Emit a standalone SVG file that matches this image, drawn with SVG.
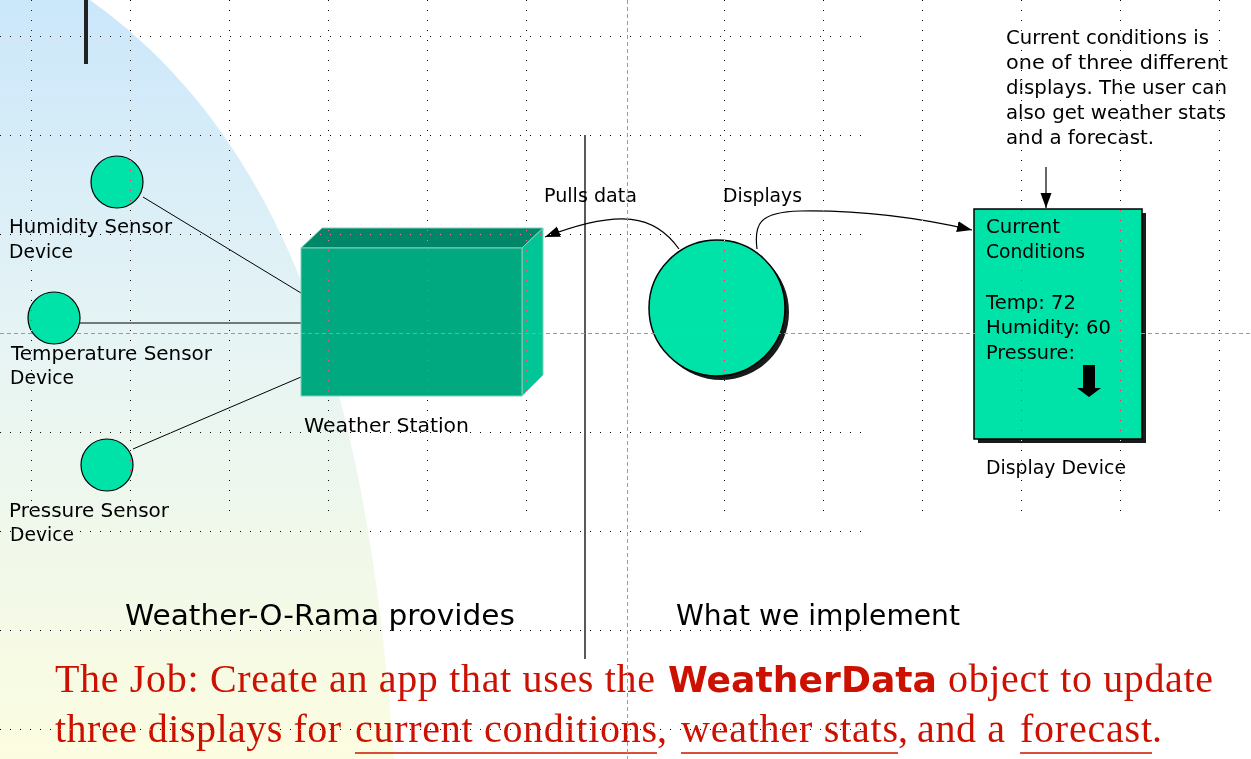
<svg xmlns="http://www.w3.org/2000/svg" width="1251" height="759" viewBox="0 0 1251 759">
<defs>
  <linearGradient id="bg" x1="0" y1="0" x2="0" y2="1">
    <stop offset="0" stop-color="#cbe7fb"/>
    <stop offset="0.45" stop-color="#e6f4f4"/>
    <stop offset="1" stop-color="#fcfde0"/>
  </linearGradient>
  <marker id="ah" markerUnits="userSpaceOnUse" markerWidth="16" markerHeight="12" refX="15" refY="5.5" orient="auto">
    <path d="M0,0 L15,5.5 L0,11 Z" fill="#000"/>
  </marker>
</defs>
<style>
  .lbl { font-family: "DejaVu Sans", "Open Sans", sans-serif; font-size: 19px; fill: #000; }
  .big { font-family: "DejaVu Sans", "Open Sans", sans-serif; font-size: 28px; fill: #000; }
  .red { font-family: "Liberation Serif", "Times New Roman", serif; font-size: 40px; fill: #cc1100; }
  .redc { font-family: "DejaVu Sans", "Open Sans", sans-serif; font-size: 36px; font-weight: bold; fill: #cc1100; }
  .sensor { fill: #00e3a8; stroke: #000; stroke-width: 1.2; }
  .wire { stroke: #000; stroke-width: 1; fill: none; }
  .conn { stroke: #000; stroke-width: 1.2; fill: none; }
  .dotg { stroke: #fff; stroke-width: 1; stroke-dasharray: 1 9; }
  .dash { stroke: #9a9a9a; stroke-width: 1; stroke-dasharray: 4 3; }
  .ul { stroke: #cc1100; stroke-width: 1.6; }
</style>

<rect x="0" y="0" width="1251" height="759" fill="#fff"/>
<path d="M0,0 L90,0 C300,150 370,420 394,759 L0,759 Z" fill="url(#bg)"/>
<rect x="84" y="0" width="4" height="64" fill="#222"/>

<!-- separator line -->
<line x1="585" y1="135" x2="585" y2="659" stroke="#000" stroke-width="1.3"/>

<g id="connectors">
  <line class="wire" x1="143" y1="197" x2="301" y2="293"/>
  <line class="wire" x1="80" y1="323" x2="301" y2="323"/>
  <line class="wire" x1="133" y1="449" x2="301" y2="377"/>
  <path class="conn" d="M679,249 C655,215 620,208 545,237" marker-end="url(#ah)"/>
  <path class="conn" d="M757,249 C754,225 758,212 800,211 C860,210 920,218 972,230" marker-end="url(#ah)"/>
  <line class="conn" x1="1046" y1="167" x2="1046" y2="208" marker-end="url(#ah)"/>
</g>

<g id="humidity-sensor">
  <circle class="sensor" cx="117" cy="182" r="26"/>
  <text class="lbl" x="9" y="233" textLength="163" lengthAdjust="spacingAndGlyphs">Humidity Sensor</text>
  <text class="lbl" x="9" y="258" textLength="64" lengthAdjust="spacingAndGlyphs">Device</text>
</g>
<g id="temperature-sensor">
  <circle class="sensor" cx="54" cy="318" r="26"/>
  <text class="lbl" x="11" y="360" textLength="201" lengthAdjust="spacingAndGlyphs">Temperature Sensor</text>
  <text class="lbl" x="10" y="384" textLength="64" lengthAdjust="spacingAndGlyphs">Device</text>
</g>
<g id="pressure-sensor">
  <circle class="sensor" cx="107" cy="465" r="26"/>
  <text class="lbl" x="9" y="517" textLength="160" lengthAdjust="spacingAndGlyphs">Pressure Sensor</text>
  <text class="lbl" x="10" y="541" textLength="64" lengthAdjust="spacingAndGlyphs">Device</text>
</g>

<g id="weather-station">
  <polygon points="301,248 322,228 543,228 522,248" fill="#00876a" stroke="#7fd2b8" stroke-width="1"/>
  <polygon points="522,248 543,228 543,375 522,396" fill="#00c596" stroke="#7fd2b8" stroke-width="1"/>
  <rect x="301" y="248" width="221" height="148" fill="#00a97f" stroke="#7fd2b8" stroke-width="1"/>
  <text class="lbl" x="304" y="432" textLength="165" lengthAdjust="spacingAndGlyphs">Weather Station</text>
</g>

<g id="weather-data">
  <circle cx="721" cy="312" r="68" fill="#1a1a1a"/>
  <circle cx="717" cy="308" r="68" fill="#00e3a8" stroke="#000" stroke-width="1.5"/>
</g>

<g id="connector-labels">
  <text class="lbl" x="544" y="202" textLength="93" lengthAdjust="spacingAndGlyphs">Pulls data</text>
  <text class="lbl" x="723" y="202" textLength="79" lengthAdjust="spacingAndGlyphs">Displays</text>
</g>

<g id="display-device">
  <rect x="978" y="213" width="168" height="230" fill="#1a1a1a"/>
  <rect x="974" y="209" width="168" height="230" fill="#00e3a8" stroke="#000" stroke-width="1.5"/>
  <text class="lbl" x="986" y="233" textLength="74" lengthAdjust="spacingAndGlyphs">Current</text>
  <text class="lbl" x="986" y="258" textLength="99" lengthAdjust="spacingAndGlyphs">Conditions</text>
  <text class="lbl" x="986" y="309" textLength="90" lengthAdjust="spacingAndGlyphs">Temp: 72</text>
  <text class="lbl" x="986" y="334" textLength="125" lengthAdjust="spacingAndGlyphs">Humidity: 60</text>
  <text class="lbl" x="986" y="359" textLength="89" lengthAdjust="spacingAndGlyphs">Pressure:</text>
  <polygon points="1083,365 1095,365 1095,388 1101,388 1089,397 1077,388 1083,388" fill="#000"/>
  <text class="lbl" x="986" y="474" textLength="140" lengthAdjust="spacingAndGlyphs">Display Device</text>
</g>

<g id="note">
  <text class="lbl" x="1006" y="44" textLength="203" lengthAdjust="spacingAndGlyphs">Current conditions is</text>
  <text class="lbl" x="1006" y="69" textLength="222" lengthAdjust="spacingAndGlyphs">one of three different</text>
  <text class="lbl" x="1006" y="94" textLength="221" lengthAdjust="spacingAndGlyphs">displays. The user can</text>
  <text class="lbl" x="1006" y="119" textLength="220" lengthAdjust="spacingAndGlyphs">also get weather stats</text>
  <text class="lbl" x="1006" y="144" textLength="148" lengthAdjust="spacingAndGlyphs">and a forecast.</text>
</g>

<g id="section-titles">
  <text class="big" x="125" y="625" textLength="390" lengthAdjust="spacingAndGlyphs">Weather-O-Rama provides</text>
  <text class="big" x="676" y="625" textLength="284" lengthAdjust="spacingAndGlyphs">What we implement</text>
</g>

<g id="job">
  <text class="red" x="55" y="692" textLength="600">The Job: Create an app that uses the</text>
  <text class="redc" x="668" y="692" textLength="269" lengthAdjust="spacingAndGlyphs">WeatherData</text>
  <text class="red" x="948" y="692" textLength="265">object to update</text>
  <text class="red" x="55" y="742" textLength="286">three displays for</text>
  <text class="red" x="355" y="742" textLength="302">current conditions</text>
  <text class="red" x="657" y="742">,</text>
  <text class="red" x="681" y="742" textLength="217">weather stats</text>
  <text class="red" x="898" y="742">,</text>
  <text class="red" x="917" y="742" textLength="88">and a</text>
  <text class="red" x="1020" y="742" textLength="132">forecast</text>
  <text class="red" x="1152" y="742">.</text>
  <line class="ul" x1="355" y1="753" x2="657" y2="753"/>
  <line class="ul" x1="681" y1="753" x2="898" y2="753"/>
  <line class="ul" x1="1020" y1="753" x2="1152" y2="753"/>
</g>

<g id="grid" style="mix-blend-mode:difference">
  <line class="dotg" x1="0" y1="36.5" x2="866" y2="36.5"/>
  <line class="dotg" x1="0" y1="135.5" x2="866" y2="135.5"/>
  <line class="dotg" x1="0" y1="234.5" x2="866" y2="234.5"/>
  <line class="dotg" x1="0" y1="432.5" x2="866" y2="432.5"/>
  <line class="dotg" x1="0" y1="531.5" x2="866" y2="531.5"/>
  <line class="dotg" x1="0" y1="630.5" x2="866" y2="630.5"/>
  <line class="dotg" x1="0" y1="729.5" x2="866" y2="729.5"/>
  <line class="dotg" x1="31.5" y1="0" x2="31.5" y2="513"/>
  <line class="dotg" x1="130.5" y1="0" x2="130.5" y2="513"/>
  <line class="dotg" x1="229.5" y1="0" x2="229.5" y2="513"/>
  <line class="dotg" x1="328.5" y1="0" x2="328.5" y2="513"/>
  <line class="dotg" x1="427.5" y1="0" x2="427.5" y2="513"/>
  <line class="dotg" x1="526.5" y1="0" x2="526.5" y2="513"/>
  <line class="dotg" x1="724.5" y1="0" x2="724.5" y2="513"/>
  <line class="dotg" x1="823.5" y1="0" x2="823.5" y2="513"/>
  <line class="dotg" x1="922.5" y1="0" x2="922.5" y2="513"/>
  <line class="dotg" x1="1021.5" y1="0" x2="1021.5" y2="513"/>
  <line class="dotg" x1="1120.5" y1="0" x2="1120.5" y2="513"/>
  <line class="dotg" x1="1219.5" y1="0" x2="1219.5" y2="513"/>
</g>
<g id="guides">
  <line class="dash" x1="0" y1="333.5" x2="1251" y2="333.5"/>
  <line class="dash" x1="627.5" y1="0" x2="627.5" y2="759"/>
</g>
</svg>
